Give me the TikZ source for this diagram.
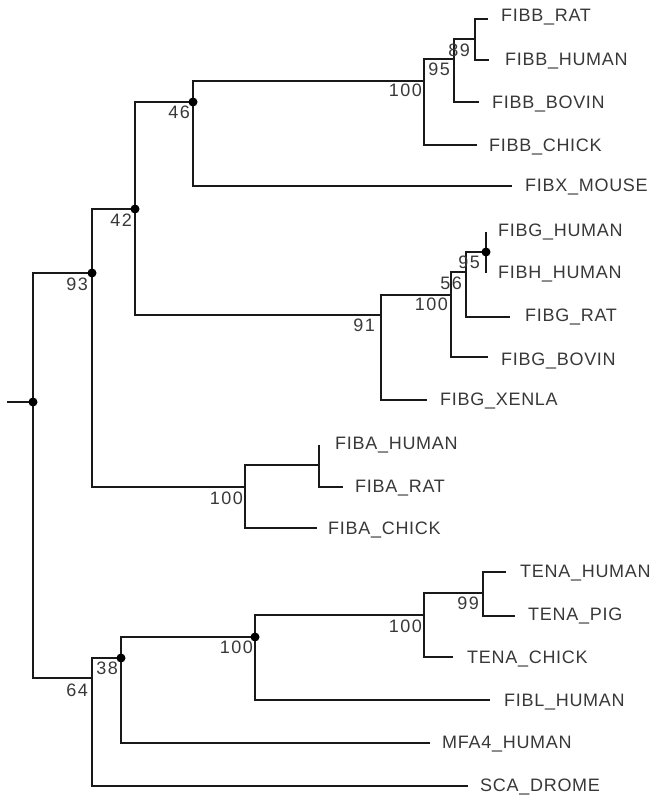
\documentclass[tikz,border=0pt]{standalone}
\usepackage{fontspec}
\setmainfont{Liberation Sans}[LetterSpace=4]
\begin{document}
\begin{tikzpicture}[x=1pt,y=-1pt,
  br/.style={line width=2pt, draw=black!90},
  dotn/.style={circle, fill=black, inner sep=0pt, minimum size=9pt},
  leaf/.style={anchor=base west, inner sep=0pt, font=\fontsize{18}{20}\selectfont, text=black!78},
  bs/.style={anchor=base east, inner sep=0pt, font=\fontsize{18}{20}\selectfont, text=black!78}]
\useasboundingbox (0,0) rectangle (657,797);
% internal nodes
\coordinate (R0) at (7,402);
\coordinate (R) at (33,402);
\coordinate (n93) at (92,273);
\coordinate (n64) at (92,678);
\coordinate (n42) at (135,209);
\coordinate (nA) at (245,487);
\coordinate (n46) at (193,102);
\coordinate (n91) at (381,315);
\coordinate (nB100) at (424,81);
\coordinate (nB95) at (454,59);
\coordinate (nB89) at (475,39);
\coordinate (nG100) at (451,295);
\coordinate (nG56) at (466,272);
\coordinate (nG95) at (486,252);
\coordinate (nA1) at (319,465);
\coordinate (n38) at (121,658);
\coordinate (nT1) at (255,637);
\coordinate (nT2) at (424,615);
\coordinate (nT99) at (483,593);
% leaf tips
\coordinate (tFIBX) at (512,186);
\coordinate (tBCHICK) at (477,145);
\coordinate (tBBOVIN) at (479,102);
\coordinate (tBRAT) at (488,19);
\coordinate (tBHUMAN) at (489,60);
\coordinate (tGXENLA) at (427,400);
\coordinate (tGBOVIN) at (488,357);
\coordinate (tGRAT) at (510,317);
\coordinate (tGHUMAN) at (486,232);
\coordinate (tHHUMAN) at (486,273);
\coordinate (tACHICK) at (317,528);
\coordinate (tAHUMAN) at (319,445);
\coordinate (tARAT) at (343,487);
\coordinate (tSCA) at (468,786);
\coordinate (tMFA4) at (430,743);
\coordinate (tFIBL) at (490,700);
\coordinate (tTCHICK) at (453,657);
\coordinate (tTHUMAN) at (506,572);
\coordinate (tTPIG) at (515,616);
% branches
\draw[br] (R0) -- (R);
\draw[br] (R) |- (n93);
\draw[br] (R) |- (n64);
\draw[br] (n93) |- (n42);
\draw[br] (n93) |- (nA);
\draw[br] (n42) |- (n46);
\draw[br] (n42) |- (n91);
\draw[br] (n46) |- (nB100);
\draw[br] (n46) |- (tFIBX);
\draw[br] (nB100) |- (nB95);
\draw[br] (nB100) |- (tBCHICK);
\draw[br] (nB95) |- (nB89);
\draw[br] (nB95) |- (tBBOVIN);
\draw[br] (nB89) |- (tBRAT);
\draw[br] (nB89) |- (tBHUMAN);
\draw[br] (n91) |- (nG100);
\draw[br] (n91) |- (tGXENLA);
\draw[br] (nG100) |- (nG56);
\draw[br] (nG100) |- (tGBOVIN);
\draw[br] (nG56) |- (nG95);
\draw[br] (nG56) |- (tGRAT);
\draw[br] (nG95) |- (tGHUMAN);
\draw[br] (nG95) |- (tHHUMAN);
\draw[br] (nA) |- (nA1);
\draw[br] (nA) |- (tACHICK);
\draw[br] (nA1) |- (tAHUMAN);
\draw[br] (nA1) |- (tARAT);
\draw[br] (n64) |- (n38);
\draw[br] (n64) |- (tSCA);
\draw[br] (n38) |- (nT1);
\draw[br] (n38) |- (tMFA4);
\draw[br] (nT1) |- (nT2);
\draw[br] (nT1) |- (tFIBL);
\draw[br] (nT2) |- (nT99);
\draw[br] (nT2) |- (tTCHICK);
\draw[br] (nT99) |- (tTHUMAN);
\draw[br] (nT99) |- (tTPIG);
% dots
\node[dotn] (dR) at (R) {};
\node[dotn] (d93) at (n93) {};
\node[dotn] (d42) at (n42) {};
\node[dotn] (d46) at (n46) {};
\node[dotn] (dG95) at (nG95) {};
\node[dotn] (d38) at (n38) {};
\node[dotn] (dT1) at (nT1) {};
% bootstrap labels
\path (n93) ++(-4,17) node[bs] (b93) {9\kern1.5pt3};
\path (n64) ++(-4,18) node[bs] (b64) {6\kern1.5pt4};
\path (n42) ++(-3,17) node[bs] (b42) {4\kern1.5pt2};
\path (n46) ++(-3,17) node[bs] (b46) {4\kern1.5pt6};
\path (nB100) ++(-2,16) node[bs] (bB100) {1\kern1.5pt0\kern1.5pt0};
\path (nB95) ++(-4,16.5) node[bs] (bB95) {9\kern1.5pt5};
\path (nB89) ++(-5,17.5) node[bs] (bB89) {8\kern1.5pt9};
\path (n91) ++(-6,16.5) node[bs] (b91) {9\kern1.5pt1};
\path (nG100) ++(-3,15.5) node[bs] (bG100) {1\kern1.5pt0\kern1.5pt0};
\path (nG56) ++(-4,17.5) node[bs] (bG56) {5\kern1.5pt6};
\path (nG95) ++(-6,16.5) node[bs] (bG95) {9\kern1.5pt5};
\path (nA) ++(-2,17.5) node[bs] (bA) {1\kern1.5pt0\kern1.5pt0};
\path (n38) ++(-3,16.5) node[bs] (b38) {3\kern1.5pt8};
\path (nT1) ++(-2,16.5) node[bs] (bT1) {1\kern1.5pt0\kern1.5pt0};
\path (nT2) ++(-2,17.5) node[bs] (bT2) {1\kern1.5pt0\kern1.5pt0};
\path (nT99) ++(-4,16.5) node[bs] (bT99) {9\kern1.5pt9};
% leaf labels
\node[leaf] (lBRAT) at (501,21.5) {FIBB\_RAT};
\node[leaf] (lBHUMAN) at (505,65.5) {FIBB\_HUMAN};
\node[leaf] (lBBOVIN) at (492,108.5) {FIBB\_BOVIN};
\node[leaf] (lBCHICK) at (489,151.5) {FIBB\_CHICK};
\node[leaf] (lFIBX) at (525,191.5) {FIBX\_MOUSE};
\node[leaf] (lGHUMAN) at (498,236.5) {FIBG\_HUMAN};
\node[leaf] (lHHUMAN) at (498,278.5) {FIBH\_HUMAN};
\node[leaf] (lGRAT) at (525,321.5) {FIBG\_RAT};
\node[leaf] (lGBOVIN) at (501,365.5) {FIBG\_BOVIN};
\node[leaf] (lGXENLA) at (440,405.5) {FIBG\_XENLA};
\node[leaf] (lAHUMAN) at (335,449.5) {FIBA\_HUMAN};
\node[leaf] (lARAT) at (355,492.5) {FIBA\_RAT};
\node[leaf] (lACHICK) at (328,534.5) {FIBA\_CHICK};
\node[leaf] (lTHUMAN) at (520,577.5) {TENA\_HUMAN};
\node[leaf] (lTPIG) at (528,620.5) {TENA\_PIG};
\node[leaf] (lTCHICK) at (467,663.5) {TENA\_CHICK};
\node[leaf] (lFIBL) at (504,706.5) {FIBL\_HUMAN};
\node[leaf] (lMFA4) at (442,748.5) {MFA4\_HUMAN};
\node[leaf] (lSCA) at (480,791.5) {SCA\_DROME};
\end{tikzpicture}
\end{document}
